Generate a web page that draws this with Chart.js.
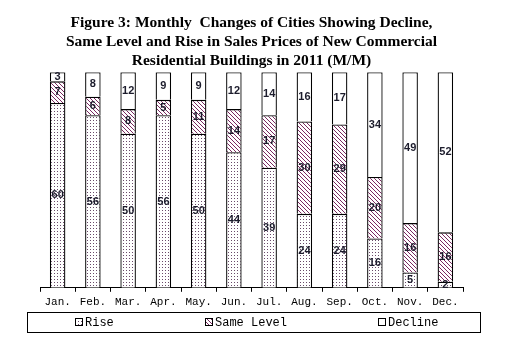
<!DOCTYPE html>
<html>
<head>
<meta charset="utf-8">
<script src="https://cdn.jsdelivr.net/npm/chart.js@4"></script>
<style>
  html, body { margin: 0; padding: 0; background: #fff; }
  #wrap { width: 509px; height: 348px; }
</style>
</head>
<body>
<div id="wrap"><canvas id="chart" width="509" height="348"></canvas></div>
<script>
// data
const months = ["Jan.", "Feb.", "Mar.", "Apr.", "May.", "Jun.", "Jul.", "Aug.", "Sep.", "Oct.", "Nov.", "Dec."];
const rise = [60, 56, 50, 56, 50, 44, 39, 24, 24, 16, 5, 2];
const sameLevel = [7, 6, 8, 5, 11, 14, 17, 30, 29, 20, 16, 16];
const decline = [3, 8, 12, 9, 9, 12, 14, 16, 17, 34, 49, 52];
const seriesNames = ["Rise", "Same Level", "Decline"];

// fill patterns
function dotPattern() {
  const c = document.createElement("canvas");
  c.width = 3; c.height = 3;
  const g = c.getContext("2d");
  g.fillStyle = "#fff";
  g.fillRect(0, 0, 3, 3);
  g.fillStyle = "#6a4a6a";
  g.fillRect(0, 0, 1, 1);
  return g.createPattern(c, "repeat");
}
function hatchPattern() {
  const c = document.createElement("canvas");
  c.width = 4; c.height = 4;
  const g = c.getContext("2d");
  g.fillStyle = "#fff";
  g.fillRect(0, 0, 4, 4);
  g.fillStyle = "#7a2860";
  for (let i = 0; i < 4; i++) g.fillRect(i, i, 1, 1);
  return g.createPattern(c, "repeat");
}

// numbers inside each segment
const segLabels = {
  id: "segLabels",
  afterDatasetsDraw(chart) {
    const ctx = chart.ctx;
    ctx.save();
    ctx.font = "bold 11px 'Liberation Sans', Arial, sans-serif";
    ctx.fillStyle = "#1c1c2c";
    ctx.textAlign = "center";
    ctx.textBaseline = "middle";
    chart.data.datasets.forEach((ds, di) => {
      chart.getDatasetMeta(di).data.forEach((bar, i) => {
        const top = Math.min(bar.y, bar.base), bot = Math.max(bar.y, bar.base);
        ctx.fillText(ds.data[i], bar.x, (top + bot) / 2);
      });
    });
    ctx.restore();
  }
};

// framed legend under the axis
const boxLegend = {
  id: "boxLegend",
  afterDraw(chart) {
    const ctx = chart.ctx;
    ctx.save();
    ctx.strokeStyle = "#000";
    ctx.lineWidth = 1;
    ctx.strokeRect(27.5, 312.5, 453, 20);
    const xs = [75, 205, 378];
    ctx.font = "12px 'Liberation Mono', 'DejaVu Sans Mono', monospace";
    ctx.textBaseline = "middle";
    chart.data.datasets.forEach((ds, i) => {
      ctx.fillStyle = ds.backgroundColor;
      ctx.fillRect(xs[i], 318, 7, 7);
      ctx.strokeRect(xs[i] + 0.5, 318.5, 7, 7);
      ctx.fillStyle = "#000";
      ctx.fillText(ds.label, xs[i] + 10, 323);
    });
    ctx.restore();
  }
};

const fills = [dotPattern(), hatchPattern(), "#ffffff"];
const values = [rise, sameLevel, decline];

new Chart(document.getElementById("chart"), {
  type: "bar",
  data: {
    labels: months,
    datasets: seriesNames.map((name, i) => ({
      label: name,
      data: values[i],
      backgroundColor: fills[i],
      borderColor: "#000",
      borderWidth: 1.3,
      borderSkipped: "start",
      barPercentage: 0.88,
      categoryPercentage: 0.5
    }))
  },
  options: {
    responsive: false,
    animation: false,
    layout: { padding: { left: 40, right: 46, top: 0, bottom: 35 } },
    plugins: {
      legend: { display: false },
      tooltip: { enabled: false },
      title: {
        display: true,
        text: [
          "Figure 3: Monthly  Changes of Cities Showing Decline,",
          "Same Level and Rise in Sales Prices of New Commercial",
          "Residential Buildings in 2011 (M/M)"
        ],
        color: "#000",
        font: { family: "'Liberation Serif', 'Times New Roman', serif", size: 15.5, weight: "bold", lineHeight: 1.25 },
        padding: { top: 13, bottom: 1 }
      }
    },
    scales: {
      x: {
        stacked: true,
        offset: true,
        grid: { display: true, offset: true, drawOnChartArea: false, drawTicks: true, tickLength: 4, color: "#000" },
        border: { display: true, color: "#000", width: 1 },
        ticks: {
          color: "#000",
          padding: 4,
          maxRotation: 0,
          font: { family: "'Liberation Mono', 'DejaVu Sans Mono', monospace", size: 11 }
        }
      },
      y: {
        stacked: true,
        min: 0,
        max: 70,
        display: false
      }
    }
  },
  plugins: [segLabels, boxLegend]
});
</script>
</body>
</html>
